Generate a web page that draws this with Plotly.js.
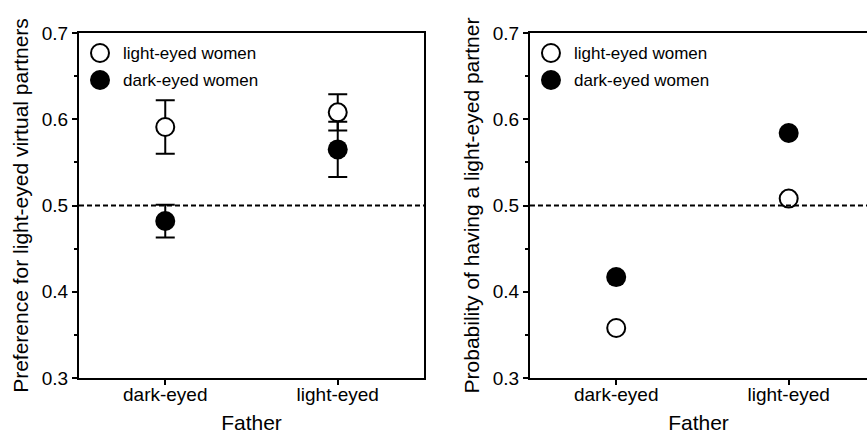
<!DOCTYPE html>
<html>
<head>
<meta charset="utf-8">
<script src="https://cdn.plot.ly/plotly-3.0.1.min.js"></script>
<style>html,body{margin:0;padding:0;background:#fff;}#chart{width:867px;height:437px;}</style>
</head>
<body>
<div id="chart"></div>
<script>
// ---- data ----
var fatherCategories = ['dark-eyed', 'light-eyed'];
var seriesNames = ['light-eyed women', 'dark-eyed women'];
// Left panel: preference for light-eyed virtual partners (mean ± error)
var prefLightWomen = [0.591, 0.608];
var prefLightWomenErr = [0.031, 0.021];
var prefDarkWomen = [0.482, 0.565];
var prefDarkWomenErr = [0.019, 0.032];
// Right panel: probability of having a light-eyed partner
var probLightWomen = [0.358, 0.508];
var probDarkWomen = [0.417, 0.584];
var referenceLevel = 0.5;
var yTickVals = [0.3, 0.4, 0.5, 0.6, 0.7];
var yTickText = ['0.3', '0.4', '0.5', '0.6', '0.7'];

var FONT = 'Liberation Sans, Arial, Helvetica, sans-serif';
var openMarker = {symbol: 'circle', size: 18, color: '#ffffff', line: {color: '#000000', width: 2}};
var filledMarker = {symbol: 'circle', size: 20, color: '#000000', line: {color: '#000000', width: 0}};
var errStyle = {type: 'data', visible: true, color: '#000000', thickness: 2, width: 9.5};

var traces = [
  {x: fatherCategories, y: prefLightWomen, error_y: Object.assign({array: prefLightWomenErr}, errStyle),
   name: seriesNames[0], type: 'scatter', mode: 'markers', marker: openMarker, xaxis: 'x', yaxis: 'y'},
  {x: fatherCategories, y: prefDarkWomen, error_y: Object.assign({array: prefDarkWomenErr}, errStyle),
   name: seriesNames[1], type: 'scatter', mode: 'markers', marker: filledMarker, xaxis: 'x', yaxis: 'y'},
  {x: fatherCategories, y: probLightWomen,
   name: seriesNames[0], type: 'scatter', mode: 'markers', marker: openMarker, xaxis: 'x2', yaxis: 'y2'},
  {x: fatherCategories, y: probDarkWomen,
   name: seriesNames[1], type: 'scatter', mode: 'markers', marker: filledMarker, xaxis: 'x2', yaxis: 'y2'}
];

function yAxis(title, anchor, mirror) {
  return {
    anchor: anchor, range: [0.3, 0.7], tickvals: yTickVals, ticktext: yTickText,
    ticks: 'outside', ticklen: 5, tickwidth: 2, tickcolor: '#000',
    minor: {dtick: 0.05, tick0: 0.3, ticks: 'outside', ticklen: 3, tickwidth: 2, tickcolor: '#000', showgrid: false},
    showline: true, linecolor: '#000', linewidth: 2, mirror: mirror,
    showgrid: false, zeroline: false, fixedrange: true,
    tickfont: {family: FONT, size: 19, color: '#000'},
    title: {text: title, font: {family: FONT, size: 21, color: '#000'}, standoff: 7}
  };
}
function xAxis(domain, anchor, range) {
  return {
    domain: domain, anchor: anchor, type: 'category', range: range,
    ticks: 'outside', ticklen: 5, tickwidth: 2, tickcolor: '#000',
    showline: true, linecolor: '#000', linewidth: 2, mirror: true,
    showgrid: false, zeroline: false, fixedrange: true,
    ticklabelstandoff: -7,
    tickfont: {family: FONT, size: 19, color: '#000'},
    title: {text: 'Father', font: {family: FONT, size: 21, color: '#000'}, standoff: 12}
  };
}

// hand-built legends (circle shapes + text annotations), one per panel
var legendRowsPx = [20, 47];       // offsets below the top of each panel
var legendMarkerPx = 21;           // marker centre offset from panel's left edge
var legendTextPx = 42;             // text start offset from panel's left edge
var shapes = [];
var annotations = [];
['x', 'x2'].forEach(function (ax) {
  var yref = ax === 'x' ? 'y' : 'y2';
  seriesNames.forEach(function (nm, i) {
    var filled = i === 1;
    var r = filled ? 10 : 9;
    shapes.push({
      type: 'circle', xref: ax + ' domain', yref: yref + ' domain',
      xsizemode: 'pixel', ysizemode: 'pixel', xanchor: 0, yanchor: 1,
      x0: legendMarkerPx - r, x1: legendMarkerPx + r,
      y0: -legendRowsPx[i] - r, y1: -legendRowsPx[i] + r,
      fillcolor: filled ? '#000' : '#fff',
      line: {color: '#000', width: filled ? 0 : 2}
    });
    annotations.push({
      xref: ax + ' domain', yref: yref + ' domain', x: 0, y: 1,
      xanchor: 'left', yanchor: 'middle', xshift: legendTextPx, yshift: -legendRowsPx[i],
      text: nm, showarrow: false,
      font: {family: FONT, size: 17, color: '#000'}
    });
  });
  shapes.push({type: 'line', xref: ax + ' domain', yref: yref, x0: 0, x1: 1,
    y0: referenceLevel, y1: referenceLevel, line: {color: '#000', width: 2, dash: '5px,3px'}});
});

var layout = {
  width: 867, height: 437,
  margin: {l: 79, r: 0, t: 33, b: 59, pad: 0},
  paper_bgcolor: '#fff', plot_bgcolor: '#fff',
  showlegend: false,
  xaxis: xAxis([0, 0.4378], 'y', [-0.5, 1.5]),
  yaxis: yAxis('Preference for light-eyed virtual partners', 'x', true),
  xaxis2: xAxis([0.5723, 1], 'y2', [-0.5, 1.454]),
  yaxis2: yAxis('Probability of having a light-eyed partner', 'x2', false),
  shapes: shapes,
  annotations: annotations
};

Plotly.newPlot('chart', traces, layout, {displayModeBar: false, staticPlot: true});
</script>
</body>
</html>
